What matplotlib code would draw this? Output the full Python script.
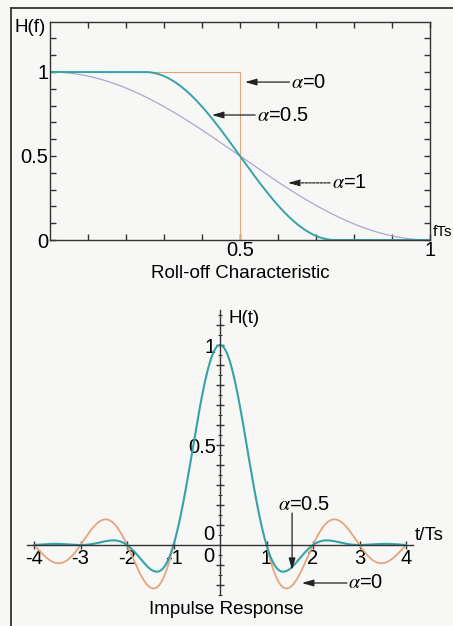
import numpy as np
import matplotlib
matplotlib.use("Agg")
import matplotlib.pyplot as plt
from matplotlib.lines import Line2D

plt.rcParams['font.family'] = ['Liberation Sans', 'DejaVu Sans']
plt.rcParams['mathtext.fontset'] = 'stix'

# roll-off factors shown in the chart
alphas = [0, 0.5, 1]
colors = {0: '#e6a47e', 0.5: '#36a3a8', 1: '#aaa7d0'}

# top chart ticks
f_ticks = [0.1, 0.2, 0.3, 0.4, 0.5, 0.6, 0.7, 0.8, 0.9, 1.0]
f_labels = ['', '', '', '', '0.5', '', '', '', '', '1']
hf_ticks = [0, 0.5, 1]
hf_labels = ['0', '0.5', '1']

# bottom chart ticks
t_ticks = [-4, -3, -2, -1, 1, 2, 3, 4]
t_labels = ['-4', '-3', '-2', '-1', '1', '2', '3', '4']
ht_ticks = [-0.2, -0.1, 0.1, 0.2, 0.3, 0.4, 0.5, 0.6, 0.7, 0.8, 0.9, 1.0, 1.1]
ht_labels = ['', '', '', '', '', '', '0.5', '', '', '', '', '1', '']


def spectrum(f, a):
    if a == 0:
        return np.where(f <= 0.5, 1.0, 0.0)
    lo, hi = (1 - a) / 2, (1 + a) / 2
    out = np.where(f <= lo, 1.0, 0.0)
    mid = (f > lo) & (f <= hi)
    out[mid] = 0.5 * (1 + np.cos(np.pi / a * (f[mid] - lo)))
    return out


def impulse(t, a):
    if a == 0:
        return np.sinc(t)
    den = 1 - (2 * a * t) ** 2
    safe = np.where(np.abs(den) < 1e-9, 1.0, den)
    h = np.sinc(t) * np.cos(np.pi * a * t) / safe
    return np.where(np.abs(den) < 1e-9, np.pi / 4 * np.sinc(1 / (2 * a)), h)


bg = '#f7f7f5'
fig = plt.figure(figsize=(4.53, 6.26), dpi=100, facecolor=bg)
fs = 13.5
tfs = 14.5

# ---------------- Roll-off characteristic ----------------
ax1 = fig.add_axes([50 / 453, 1 - 240 / 626, 380 / 453, 218 / 626], facecolor='none')
f = np.linspace(0, 1, 600)
ax1.plot(f, spectrum(f, 1), color=colors[1], lw=0.9)
ax1.plot([0, 0.5, 0.5], [1, 1, 0], color=colors[0], lw=0.8)
ax1.plot(f, spectrum(f, 0.5), color=colors[0.5], lw=1.4)
ax1.set_xlim(0, 1)
ax1.set_ylim(0, 218 / 168)
for s in ax1.spines.values():
    s.set_color('#333333')
    s.set_linewidth(1.0)
ax1.set_xticks(f_ticks, f_labels)
ax1.set_yticks(hf_ticks, hf_labels)
ax1.set_yticks(np.arange(0.1, 1.3, 0.1), minor=True)
ax1.tick_params(axis='both', which='both', direction='in', top=True, right=True,
                length=4, width=1, color='#333333', labelsize=tfs, pad=1)
ax1.tick_params(axis='y', which='minor', labelleft=False, length=4)
ax1.text(1.006, 0.045, 'fTs', fontsize=11, ha='left', va='center')
fig.text(15 / 453, 1 - 28 / 626, 'H(f)', fontsize=fs, ha='left', va='center')
fig.text(240 / 453, 1 - 274 / 626, 'Roll-off Characteristic', fontsize=fs,
         ha='center', va='center')

arrow = dict(arrowstyle='-|>,head_length=0.7,head_width=0.2', color='#222222',
             lw=0.9, shrinkA=0, shrinkB=0)
ax1.annotate('', xy=(0.513, 0.94), xytext=(0.63, 0.94), arrowprops=arrow)
ax1.text(0.633, 0.94, r'$\alpha$=0', fontsize=14.5, va='center', ha='left')
ax1.annotate('', xy=(0.426, 0.744), xytext=(0.54, 0.744), arrowprops=arrow)
ax1.text(0.545, 0.744, r'$\alpha$=0.5', fontsize=14.5, va='center', ha='left')
arrow_d = dict(arrow, linestyle=(0, (2, 1)))
ax1.annotate('', xy=(0.626, 0.34), xytext=(0.737, 0.34), arrowprops=arrow_d)
ax1.text(0.742, 0.34, r'$\alpha$=1', fontsize=14.5, va='center', ha='left')

# ---------------- Impulse response ----------------
ax2 = fig.add_axes([20 / 453, 1 - 600 / 626, 400 / 453, 295 / 626], facecolor='none')
t = np.linspace(-4, 4, 1601)
h0 = np.where(np.abs(t) < 1, np.nan, impulse(t, 0))  # main lobe hidden under alpha=0.5
ax2.plot(t, h0, color=colors[0], lw=1.3)
ax2.plot(t, impulse(t, 0.5), color=colors[0.5], lw=1.5)
ax2.set_xlim(-200 / 46.5, 200 / 46.5)
ax2.set_ylim(-55 / 200, 240 / 200)
for side in ['top', 'right']:
    ax2.spines[side].set_visible(False)
ax2.spines['left'].set_position(('data', 0))
ax2.spines['bottom'].set_position(('data', 0))
ax2.spines['left'].set_bounds(-0.25, 1.175)
ax2.spines['bottom'].set_bounds(-4.15, 4.15)
for side in ['left', 'bottom']:
    ax2.spines[side].set_color('#333333')
    ax2.spines[side].set_linewidth(1.0)
ax2.set_xticks(t_ticks, t_labels)
ax2.set_yticks(ht_ticks, ht_labels)
ax2.set_yticks(np.arange(-0.25, 1.16, 0.05), minor=True)
ax2.tick_params(axis='both', which='major', direction='inout', length=6, width=1,
                color='#333333', labelsize=tfs, pad=0)
ax2.tick_params(axis='y', which='minor', direction='inout', length=3, width=0.8,
                color='#333333')
ax2.text(-0.12, 0.05, '0', fontsize=tfs, ha='right', va='center')
ax2.text(-0.12, -0.06, '0', fontsize=tfs, ha='right', va='center')
ax2.text(195 / 46.5, 0.045, 't/Ts', fontsize=fs, ha='left', va='center')
ax2.text(0.18, 1.135, 'H(t)', fontsize=fs, ha='left', va='center')
fig.text(226 / 453, 1 - 609 / 626, 'Impulse Response', fontsize=fs,
         ha='center', va='center')

ax2.annotate('', xy=(1.55, -0.125), xytext=(1.55, 0.16), arrowprops=arrow)
ax2.text(1.81, 0.2, r'$\alpha$=0.5', fontsize=14.5, va='center', ha='center')
ax2.annotate('', xy=(1.76, -0.19), xytext=(2.73, -0.19), arrowprops=arrow)
ax2.text(2.76, -0.19, r'$\alpha$=0', fontsize=14.5, va='center', ha='left')

# scan frame
fig.add_artist(Line2D([11 / 453, 11 / 453], [0, 1 - 8 / 626],
                      transform=fig.transFigure, color='#333333', lw=1.3))
fig.add_artist(Line2D([11 / 453, 1], [1 - 8 / 626, 1 - 8 / 626],
                      transform=fig.transFigure, color='#333333', lw=1.3))

fig.savefig('out.png', dpi=100, facecolor=bg)
